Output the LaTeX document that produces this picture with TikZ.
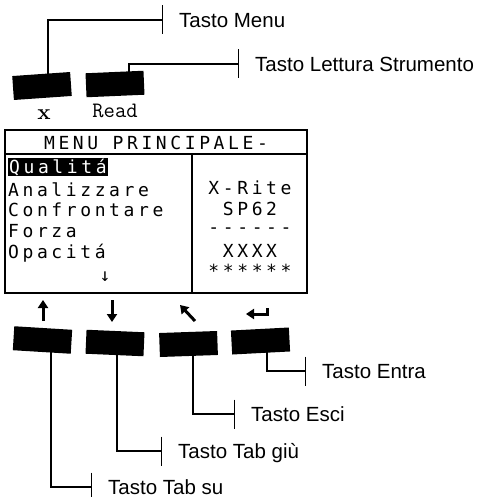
\documentclass[tikz,border=0pt]{standalone}
\usepackage{fontspec}
\setmainfont{Liberation Sans}
\newfontfamily\lcdfont{DejaVu Sans Mono}[LetterSpace=20]
\newfontfamily\keyfont{Latin Modern Mono}
\newfontfamily\xfont{lmroman10-bold}[Extension=.otf]
\usetikzlibrary{arrows.meta}

\begin{document}
\begin{tikzpicture}[
    x=1pt, y=-1pt,
    key/.style={fill=black, minimum width=58pt, minimum height=24pt, inner sep=0pt},
    lbl/.style={anchor=west, inner xsep=16pt, inner ysep=0pt, text height=18pt, text depth=3.6pt, font=\fontsize{20.5}{24}\selectfont},
    lead/.style={line width=1.3pt, -{Bar[width=29pt]}},
    lcd/.style={anchor=base, inner sep=0pt, font=\lcdfont\fontsize{18}{20}\selectfont},
    sym/.style={line width=3pt, -{Triangle[width=10pt,length=8pt]}},
    frame/.style={line width=2pt}
]
\useasboundingbox (0,0) rectangle (486,497);

% keys above the display
\node[key, rotate=4] (kx) at (42,86) {};
\node[key, rotate=2.5] (kr) at (115,84) {};
\node[anchor=base, inner sep=0pt, font=\xfont\fontsize{22}{24}\selectfont] (xlab) at (44,120) {x};
\node[anchor=base, inner sep=0pt, font=\keyfont\fontsize{22}{24}\selectfont] (readlab) at (115,118) {Read};

% display
\draw[frame] (5,130) rectangle (307,293);
\draw[frame] (5,154) -- (307,154);
\draw[frame] (192,154) -- (192,293);
\node[lcd] (titolo) at (156,149.5) {MENU PRINCIPALE-};
\node[lcd, anchor=base west, fill=black, text=white, inner sep=1pt, text height=14pt, text depth=2pt] (qual) at (8,173) {Qualitá};
\node[lcd, anchor=base west] (anal) at (8,196) {Analizzare};
\node[lcd, anchor=base west] (conf) at (8,216) {Confrontare};
\node[lcd, anchor=base west] (forza) at (8,237) {Forza};
\node[lcd, anchor=base west] (opac) at (8,258) {Opacitá};
\node[lcd] (altro) at (105,281) {↓};
\node[lcd] (xrite) at (250,194) {X-Rite};
\node[lcd] (sp) at (250,215) {SP62};
\node[lcd] (trat) at (250,233) {------};
\node[lcd] (xxxx) at (250,257) {XXXX};
\node[lcd] (stelle) at (250,277) {******};

% keys below the display
\draw[sym] (43,321) -- (43,300);
\draw[sym] (112,300) -- (112,322);
\draw[sym] (195,321) -- (180,305);
\draw[sym] (267,308) |- (246,314);
\node[key, rotate=-3.5] (ksu) at (42.5,340) {};
\node[key, rotate=-2.5] (kgiu) at (115,343) {};
\node[key, rotate=2] (kesc) at (188.5,344) {};
\node[key, rotate=3] (kent) at (260.5,341) {};

% labels
\node[lbl] (menu) at (163,20) {Tasto Menu};
\node[lbl] (lettura) at (239,64) {Tasto Lettura Strumento};
\node[lbl] (entra) at (306,371) {Tasto Entra};
\node[lbl] (esci) at (235,414) {Tasto Esci};
\node[lbl] (giu) at (162,451) {Tasto Tab giù};
\node[lbl] (su) at (92,487) {Tasto Tab su};

\draw[lead] ([xshift=6pt]kx.center) |- (menu.west);
\draw[lead] ([xshift=14pt]kr.center) |- (lettura.west);
\draw[lead] ([xshift=6.5pt]kent.center) |- (entra.west);
\draw[lead] ([xshift=4.5pt]kesc.center) |- (esci.west);
\draw[lead] ([xshift=2pt]kgiu.center) |- (giu.west);
\draw[lead] ([xshift=8.5pt]ksu.center) |- (su.west);
\end{tikzpicture}
\end{document}
